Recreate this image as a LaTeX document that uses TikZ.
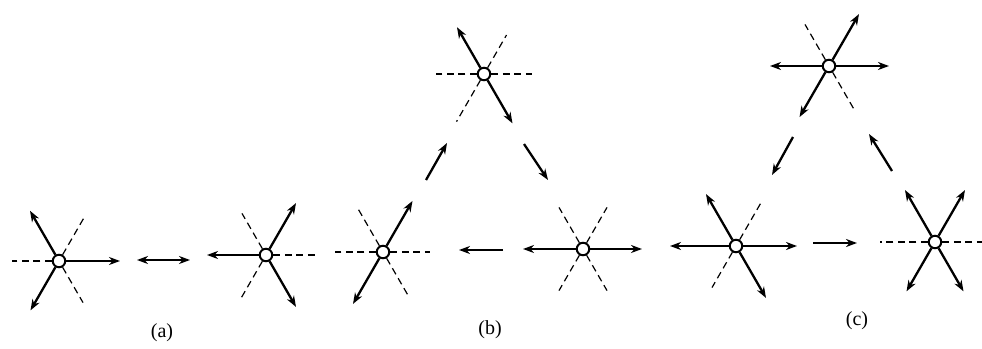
\documentclass[tikz,border=0pt]{standalone}
\usepackage{fontspec}
\setmainfont{Liberation Serif}
\usetikzlibrary{arrows.meta}
\begin{document}
\begin{tikzpicture}[x=1pt,y=1pt,
  atom/.style={circle,draw,fill=white,line width=2pt,inner sep=0pt,minimum size=12.5pt},
  vec/.style={line width=2.3pt,-{Stealth[length=11pt,width=8pt,inset=3.5pt]}},
  dvec/.style={line width=2.3pt,{Stealth[length=11pt,width=8pt,inset=3.5pt]}-{Stealth[length=11pt,width=8pt,inset=3.5pt]}},
  bond/.style={line width=1.2pt,dash pattern=on 7pt off 4.5pt},
  lab/.style={font=\fontsize{20}{24}\selectfont}]
\useasboundingbox (0,0) rectangle (982,348);
% ---------- (a)
\node[atom] (a1) at (59,87) {};
\node[atom] (a2) at (266,93) {};
\draw[vec] (a1) -- ++(0:61);
\draw[vec] (a1) -- ++(120:58);
\draw[vec] (a1) -- ++(240:57);
\draw[bond] (a1) -- ++(180:47);
\draw[bond] (a1) -- ++(60:52);
\draw[bond] (a1) -- ++(300:48);
\draw[vec] (a2) -- ++(180:59);
\draw[vec] (a2) -- ++(60:60);
\draw[vec] (a2) -- ++(300:60);
\draw[bond] (a2) -- ++(0:49);
\draw[bond] (a2) -- ++(120:48);
\draw[bond] (a2) -- ++(240:49);
\coordinate (da1) at (137,88);
\coordinate (da2) at (190,88);
\draw[dvec] (da1) -- (da2);
\node[lab] (la) at (162,15) {(a)};
% ---------- (b)
\node[atom] (b1) at (383,96) {};
\node[atom] (b2) at (484,274) {};
\node[atom] (b3) at (583,99) {};
\draw[vec] (b1) -- ++(60:59);
\draw[vec] (b1) -- ++(240:60);
\draw[bond] (b1) -- ++(180:48);
\draw[bond] (b1) -- ++(0:47);
\draw[bond] (b1) -- ++(120:49);
\draw[bond] (b1) -- ++(300:50);
\draw[vec] (b2) -- ++(120:54);
\draw[vec] (b2) -- ++(300:57);
\draw[bond] (b2) -- ++(180:48);
\draw[bond] (b2) -- ++(0:48);
\draw[bond] (b2) -- ++(60:45);
\draw[bond] (b2) -- ++(240:55);
\draw[vec] (b3) -- ++(180:60);
\draw[vec] (b3) -- ++(0:59);
\draw[bond] (b3) -- ++(120:48);
\draw[bond] (b3) -- ++(60:48);
\draw[bond] (b3) -- ++(240:48);
\draw[bond] (b3) -- ++(300:48);
\coordinate (bs1) at (426,168); \coordinate (be1) at (447,205);
\coordinate (bs2) at (524,204); \coordinate (be2) at (548,168);
\coordinate (bs3) at (503,98);  \coordinate (be3) at (459,98);
\draw[vec] (bs1) -- (be1);
\draw[vec] (bs2) -- (be2);
\draw[vec] (bs3) -- (be3);
\node[lab] (lb) at (490,18) {(b)};
% ---------- (c)
\node[atom] (c1) at (829,282) {};
\node[atom] (c2) at (736,102) {};
\node[atom] (c3) at (935,106) {};
\draw[vec] (c1) -- ++(180:59);
\draw[vec] (c1) -- ++(0:60);
\draw[vec] (c1) -- ++(60:60);
\draw[vec] (c1) -- ++(240:59);
\draw[bond] (c1) -- ++(120:48);
\draw[bond] (c1) -- ++(300:49);
\draw[vec] (c2) -- ++(180:66);
\draw[vec] (c2) -- ++(0:61);
\draw[vec] (c2) -- ++(120:60);
\draw[vec] (c2) -- ++(300:60);
\draw[bond] (c2) -- ++(60:49);
\draw[bond] (c2) -- ++(240:48);
\draw[vec] (c3) -- ++(120:60);
\draw[vec] (c3) -- ++(60:60);
\draw[vec] (c3) -- ++(240:57);
\draw[vec] (c3) -- ++(300:57);
\draw[bond] (c3) -- ++(180:55);
\draw[bond] (c3) -- ++(0:47);
\coordinate (cs1) at (793,211); \coordinate (ce1) at (772,173);
\coordinate (cs2) at (892,177); \coordinate (ce2) at (869,214);
\coordinate (cs3) at (813,105); \coordinate (ce3) at (857,105);
\draw[vec] (cs1) -- (ce1);
\draw[vec] (cs2) -- (ce2);
\draw[vec] (cs3) -- (ce3);
\node[lab] (lc) at (857,27) {(c)};
\end{tikzpicture}
\end{document}
